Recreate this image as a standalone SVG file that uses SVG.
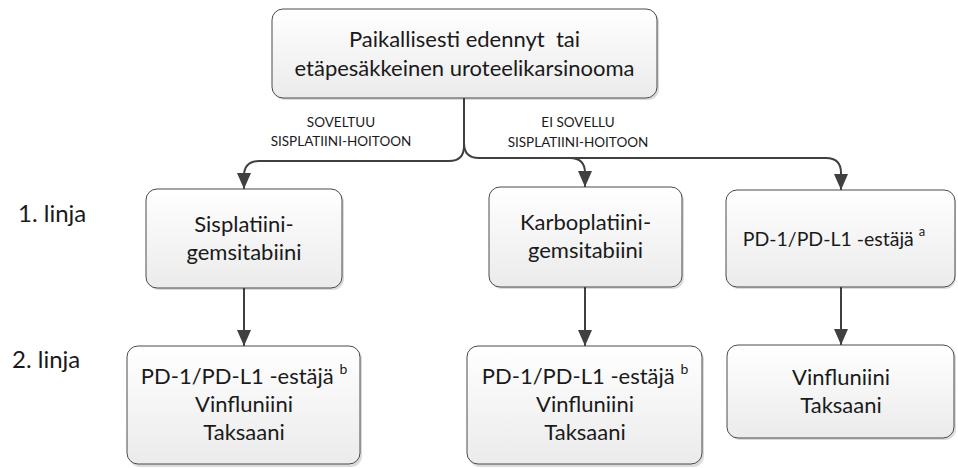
<svg xmlns="http://www.w3.org/2000/svg" width="958" height="468" viewBox="0 0 958 468">
<defs>
<linearGradient id="g" x1="0" y1="0" x2="0" y2="1">
<stop offset="0" stop-color="#ffffff"/>
<stop offset="1" stop-color="#ebebeb"/>
</linearGradient>
<marker id="arrd" markerUnits="userSpaceOnUse" markerWidth="16" markerHeight="14" viewBox="0 0 16 14" refX="16" refY="7" orient="auto">
<path d="M0,0 L16,7 L0,14 Z" fill="#404040"/>
</marker>
</defs>
<style>
.box{fill:url(#g);stroke:#4a4a4a;stroke-width:1}
.sh{fill:#000;opacity:.14}
.t{font-family:Lato,"Liberation Sans",sans-serif;font-weight:400;fill:#1a1a1a;text-anchor:middle;white-space:pre}
.big{font-size:22px}
.mid{font-size:22px}
.small{font-size:13.5px}
.lbl{font-family:Lato,"Liberation Sans",sans-serif;font-weight:400;fill:#1a1a1a;font-size:24px}
.c{fill:none;stroke:#404040;stroke-width:2}
</style>
<g id="connectors">
<path class="c" d="M464,98 V146 Q464,161 449,161 H259 Q244,161 244,176 V189" marker-end="url(#arrd)"/>
<path class="c" d="M464,143 Q464,158 479,158 H570 Q585,158 585,173 V187" marker-end="url(#arrd)"/>
<path class="c" d="M570,158 H826 Q841,158 841,173 V190" marker-end="url(#arrd)"/>
<path class="c" d="M244,288 V346" marker-end="url(#arrd)"/>
<path class="c" d="M585,287 V346" marker-end="url(#arrd)"/>
<path class="c" d="M841,287 V345" marker-end="url(#arrd)"/>
</g>
<g id="label-soveltuu">
<text class="t small" x="341" y="127">SOVELTUU</text>
<text class="t small" x="341" y="146">SISPLATIINI-HOITOON</text>
</g>
<g id="label-ei-sovellu">
<text class="t small" x="578" y="127">EI SOVELLU</text>
<text class="t small" x="578" y="147">SISPLATIINI-HOITOON</text>
</g>
<g id="row1">
<text class="lbl" x="18" y="222">1. linja</text>
</g>
<g id="row2">
<text class="lbl" x="12" y="368">2. linja</text>
</g>
<g id="n-top">
<rect class="sh" x="274" y="11" width="385" height="89" rx="11"/>
<rect class="box" x="272" y="9" width="385" height="89" rx="11"/>
<text class="t big" x="464.5" y="47" xml:space="preserve">Paikallisesti edennyt  tai</text>
<text class="t big" x="464.5" y="76">etäpesäkkeinen uroteelikarsinooma</text>
</g>
<g id="n-sis">
<rect class="sh" x="148" y="191" width="196" height="99" rx="11"/>
<rect class="box" x="146" y="189" width="196" height="99" rx="11"/>
<text class="t mid" x="244" y="232">Sisplatiini-</text>
<text class="t mid" x="244" y="260">gemsitabiini</text>
</g>
<g id="n-karbo">
<rect class="sh" x="491" y="189" width="193" height="100" rx="11"/>
<rect class="box" x="489" y="187" width="193" height="100" rx="11"/>
<text class="t mid" x="585.5" y="230">Karboplatiini-</text>
<text class="t mid" x="585.5" y="258">gemsitabiini</text>
</g>
<g id="n-pd">
<rect class="sh" x="728" y="192" width="228" height="97" rx="11"/>
<rect class="box" x="726" y="190" width="229" height="97" rx="11"/>
<text class="t" x="834" y="246" font-size="19.5">PD-1/PD-L1 -estäjä <tspan font-size="13" dy="-10">a</tspan></text>
</g>
<g id="n-bl">
<rect class="sh" x="129" y="348" width="233" height="119" rx="11"/>
<rect class="box" x="127" y="346" width="233" height="118" rx="11"/>
<text class="t mid" x="244" y="384">PD-1/PD-L1 -estäjä <tspan font-size="14" dy="-10">b</tspan></text>
<text class="t mid" x="244" y="412">Vinfluniini</text>
<text class="t mid" x="244" y="440">Taksaani</text>
</g>
<g id="n-bm">
<rect class="sh" x="469" y="348" width="235" height="119" rx="11"/>
<rect class="box" x="467" y="346" width="235" height="118" rx="11"/>
<text class="t mid" x="585" y="384">PD-1/PD-L1 -estäjä <tspan font-size="14" dy="-10">b</tspan></text>
<text class="t mid" x="585" y="412">Vinfluniini</text>
<text class="t mid" x="585" y="440">Taksaani</text>
</g>
<g id="n-br">
<rect class="sh" x="729" y="347" width="227" height="93" rx="11"/>
<rect class="box" x="727" y="345" width="227" height="93" rx="11"/>
<text class="t mid" x="841" y="385">Vinfluniini</text>
<text class="t mid" x="841" y="413">Taksaani</text>
</g>
</svg>
